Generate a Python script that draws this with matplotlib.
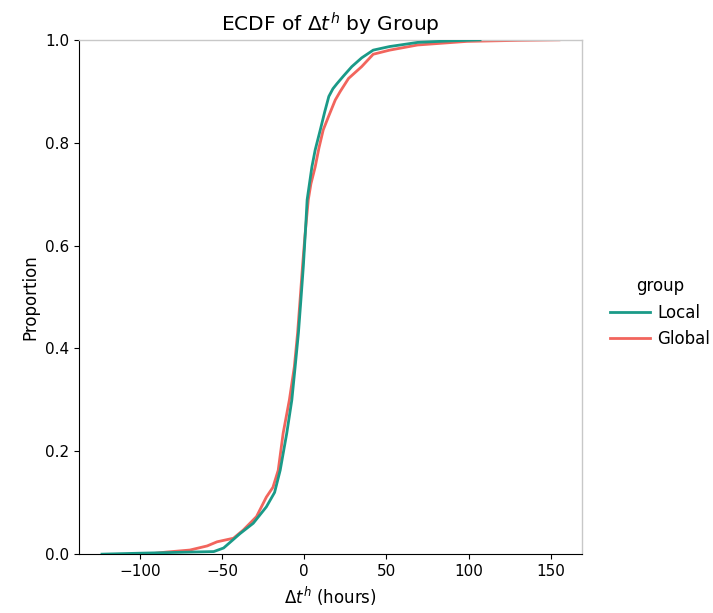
import numpy as np
import matplotlib.pyplot as plt

# ECDF curves: delta t (hours) vs proportion
local_x = [-123, -98, -55, -49, -39, -31, -23, -18, -14.6, -10.6, -7.5, -5.5, -3.5,
           -2, -0.5, 0.8, 1.8, 3.2, 4.7, 6.7, 9.8, 12.5, 15, 17.5, 20, 24, 29, 35,
           42, 52, 69, 89, 107]
local_y = [0.0, 0.002, 0.005, 0.012, 0.04, 0.06, 0.092, 0.12, 0.163, 0.235, 0.30,
           0.364, 0.43, 0.494, 0.56, 0.63, 0.689, 0.72, 0.753, 0.786, 0.825, 0.86,
           0.89, 0.905, 0.915, 0.93, 0.948, 0.965, 0.98, 0.987, 0.995, 0.998, 1.0]

global_x = [-95, -84, -69.5, -59, -53, -43, -37, -29, -23, -19, -15.8, -12.8, -9,
            -6, -4, -2.5, -1, 0.5, 2.5, 4.1, 6.7, 9, 11.6, 14.7, 18.9, 22, 27, 35,
            42, 52, 69, 99, 130, 155]
global_y = [0.0, 0.004, 0.008, 0.016, 0.024, 0.031, 0.047, 0.073, 0.111, 0.13,
            0.163, 0.235, 0.30, 0.364, 0.43, 0.494, 0.56, 0.62, 0.689, 0.72, 0.753,
            0.79, 0.825, 0.85, 0.883, 0.90, 0.925, 0.948, 0.972, 0.98, 0.99, 0.997,
            0.999, 1.0]

groups = ["Local", "Global"]
colors = ["#1a9a88", "#f2655d"]

fig = plt.figure(figsize=(7.13, 6.13), dpi=100)
ax = fig.add_axes([0.111, 0.096, 0.705, 0.839])

# global first so local sits on top
ax.plot(global_x, global_y, color=colors[1], lw=2, label=groups[1], zorder=2)
ax.plot(local_x, local_y, color=colors[0], lw=2, label=groups[0], zorder=3)

ax.set_ylim(0, 1)
ax.margins(x=0.05)
ax.set_xticks([-100, -50, 0, 50, 100, 150])
ax.tick_params(labelsize=11)
ax.set_xlabel(r"$\Delta t^h$ (hours)", fontsize=12)
ax.set_ylabel("Proportion", fontsize=12)
ax.set_title(r"ECDF of $\Delta t^h$ by Group", fontsize=14.5)

for s in ["top", "right"]:
    ax.spines[s].set_color("#c8c8c8")
    ax.spines[s].set_linewidth(1)

h, l = ax.get_legend_handles_labels()
leg = fig.legend(h[::-1], l[::-1], title="group", frameon=False, fontsize=12,
                 title_fontsize=12, loc="center left", bbox_to_anchor=(0.835, 0.49),
                 handlelength=2.4, handletextpad=0.4)

fig.savefig("out.png", dpi=100)
